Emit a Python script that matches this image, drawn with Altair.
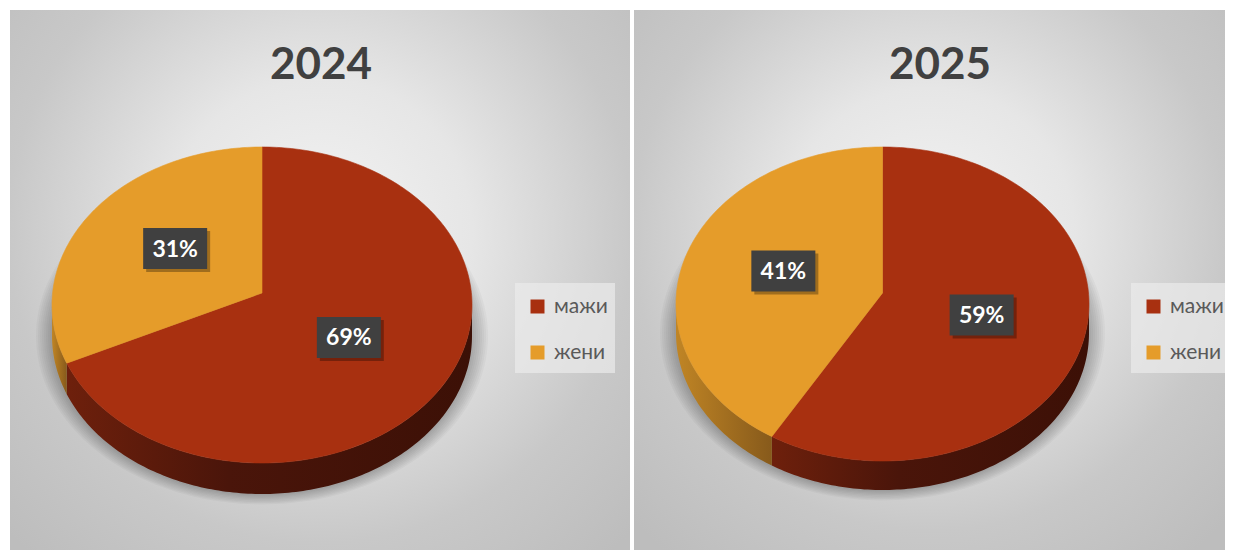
import numpy as np
import pandas as pd
import altair as alt

# ---- data ----
years = ["2024", "2025"]
categories = ["мажи", "жени"]
share_2024 = [69, 31]
share_2025 = [59, 41]
shares = [share_2024, share_2025]

# ---- styles / layout ----
top_colors = ["#A83010", "#E59C2A"]
side_grads = [
    {"gradient": "linear", "x1": 0, "y1": 0, "x2": 1, "y2": 0,
     "stops": [{"offset": 0, "color": "#6e200c"}, {"offset": 0.4, "color": "#4a150a"},
               {"offset": 1, "color": "#3c1006"}]},
    {"gradient": "linear", "x1": 0, "y1": 0, "x2": 1, "y2": 0,
     "stops": [{"offset": 0, "color": "#c08525"}, {"offset": 1, "color": "#875a1b"}]},
]
bg_grad = {"gradient": "radial", "x1": 0.5, "y1": 0.42, "r1": 0, "x2": 0.5, "y2": 0.42, "r2": 0.7,
           "stops": [{"offset": 0, "color": "#f3f3f3"}, {"offset": 0.35, "color": "#e6e6e6"},
                     {"offset": 0.72, "color": "#c8c8c8"}, {"offset": 1, "color": "#bdbdbd"}]}

panel_w = [620, 591]
H = 540
pies = [dict(cx=252, cy=295, rx=210, ry=158, vy=283, depth=31),
        dict(cx=248.5, cy=294, rx=206.5, ry=157, vy=283, depth=29)]
title_x = [311, 306]
legend_x = [505, 497]
FONT = "Lato, 'Open Sans', sans-serif"


def build(values, p):
    total = float(sum(values))
    cx, cy, rx, ry, vy, d = p["cx"], p["cy"], p["rx"], p["ry"], p["vy"], p["depth"]
    top, side, labels = [], [], []
    start = 0.0
    for cat, v in zip(categories, values):
        t0 = 2 * np.pi * start / total
        t1 = 2 * np.pi * (start + v) / total
        n = max(int(np.degrees(t1 - t0)), 4)
        ts = np.linspace(t0, t1, n)
        pts = [(cx, vy)] + [(cx + rx * np.sin(t), cy - ry * np.cos(t)) for t in ts] + [(cx, vy)]
        for i, (x, y) in enumerate(pts):
            top.append(dict(cat=cat, order=i, x=x, y=y))
        a, b = max(t0, np.pi / 2), min(t1, 3 * np.pi / 2)
        if a < b:
            ts2 = np.linspace(a, b, max(int(np.degrees(b - a)), 4))
            up = [(cx + rx * np.sin(t), cy - ry * np.cos(t)) for t in ts2]
            lo = [(x, y + d) for (x, y) in up][::-1]
            for i, (x, y) in enumerate(up + lo):
                side.append(dict(cat=cat, order=i, x=x, y=y))
        mid = (t0 + t1) / 2
        labels.append(dict(cat=cat, label=f"{v}%",
                           x=cx + 0.5 * rx * np.sin(mid), y=vy - 0.5 * ry * np.cos(mid)))
        start += v
    shadow = []
    for k in range(1, 9):
        ts = np.linspace(0, 2 * np.pi, 181)
        for i, t in enumerate(ts):
            shadow.append(dict(ring=k, order=i, x=cx + (rx + 2 * k) * np.sin(t),
                               y=cy + d - (ry + 1.3 * k) * np.cos(t)))
    return pd.DataFrame(top), pd.DataFrame(side), pd.DataFrame(labels), pd.DataFrame(shadow)


def panel(idx):
    W = panel_w[idx]
    p = pies[idx]
    top_df, side_df, lab_df, sh_df = build(shares[idx], p)
    xsc = alt.Scale(domain=[0, W], nice=False, zero=False)
    ysc = alt.Scale(domain=[0, H], nice=False, zero=False, reverse=True)
    X = alt.X("x:Q", scale=xsc, axis=None)
    Y = alt.Y("y:Q", scale=ysc, axis=None)
    one = pd.DataFrame({"year": [years[idx]]})

    bg = alt.Chart(one).mark_rect(fill=bg_grad).encode(
        x=alt.value(0), x2=alt.value(W), y=alt.value(0), y2=alt.value(H))
    lx = legend_x[idx]
    leg_bg = alt.Chart(one).mark_rect(fill="#ebebeb", opacity=0.7).encode(
        x=alt.value(lx), x2=alt.value(min(lx + 100, W)), y=alt.value(273), y2=alt.value(363))
    shadow = alt.Chart(sh_df).mark_line(fill="#000000", fillOpacity=0.03, strokeWidth=0).encode(
        x=X, y=Y, detail="ring:N", order="order:Q")
    sides = [
        alt.Chart(side_df).transform_filter(alt.datum.cat == c).mark_line(
            fill=side_grads[j], strokeWidth=0).encode(
            x=X, y=Y, detail="cat:N", order="order:Q")
        for j, c in enumerate(categories) if (side_df["cat"] == c).any()
    ]
    scale = alt.Scale(domain=categories, range=top_colors)
    tops = alt.Chart(top_df).mark_line(strokeWidth=0.6).encode(
        x=X, y=Y, order="order:Q",
        fill=alt.Fill("cat:N", scale=scale, legend=alt.Legend(
            title=None, orient="none", legendX=lx + 12, legendY=286, padding=0,
            symbolType="square", symbolSize=196, symbolStrokeWidth=0, symbolOpacity=1,
            labelFont=FONT, labelFontSize=21, labelColor="#595959", labelOffset=6,
            rowPadding=24, labelLimit=200)),
        stroke=alt.Stroke("cat:N", scale=scale, legend=None))
    bw, bh = 64, 41
    box_sh = alt.Chart(lab_df).transform_calculate(
        x0=f"datum.x - {bw/2} + 3", x1=f"datum.x + {bw/2} + 3",
        y0=f"datum.y - {bh/2} + 3", y1=f"datum.y + {bh/2} + 3").mark_rect(
        fill="#000000", opacity=0.3).encode(
        x=alt.X("x0:Q", scale=xsc, axis=None), x2="x1:Q",
        y=alt.Y("y0:Q", scale=ysc, axis=None), y2="y1:Q")
    box = alt.Chart(lab_df).transform_calculate(
        x0=f"datum.x - {bw/2}", x1=f"datum.x + {bw/2}",
        y0=f"datum.y - {bh/2}", y1=f"datum.y + {bh/2}").mark_rect(
        fill="#404040").encode(
        x=alt.X("x0:Q", scale=xsc, axis=None), x2="x1:Q",
        y=alt.Y("y0:Q", scale=ysc, axis=None), y2="y1:Q")
    txt = alt.Chart(lab_df).mark_text(font=FONT, fontSize=23, fontWeight="bold", color="white",
                                      baseline="middle", align="center", dy=1).encode(
        x=X, y=Y, text="label:N")
    title = alt.Chart(one).mark_text(font=FONT, fontSize=44, fontWeight="bold", color="#404040",
                                     baseline="alphabetic", align="center").encode(
        x=alt.value(title_x[idx]), y=alt.value(69), text="year:N")
    return alt.layer(bg, leg_bg, shadow, *sides, tops, box_sh, box, txt, title).properties(
        width=W, height=H)


chart = alt.hconcat(panel(0), panel(1), spacing=4).resolve_scale(
    x="independent", y="independent", fill="independent", stroke="independent").resolve_legend(
    fill="independent", stroke="independent").properties(
    padding={"left": 2, "top": 2, "right": 0, "bottom": 0}, background="white").configure_view(stroke=None)

chart.save("out.html", embed_options={"renderer": "svg", "actions": False})
